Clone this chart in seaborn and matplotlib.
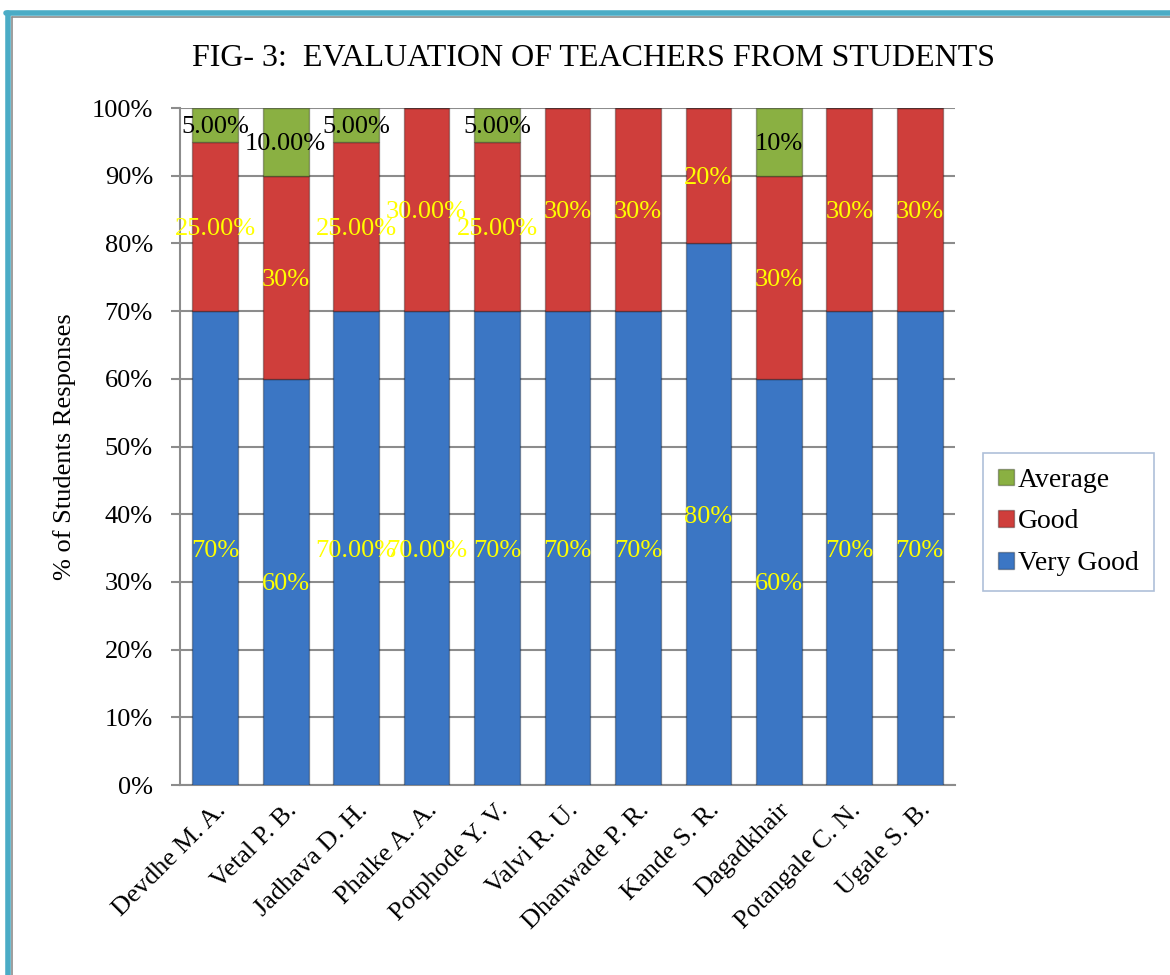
import matplotlib

matplotlib.use("Agg")
import matplotlib.pyplot as plt
import numpy as np
import pandas as pd
import seaborn as sns
from matplotlib.lines import Line2D
from matplotlib.patches import Patch

# data
teachers = [
    "Devdhe M. A.",
    "Vetal P. B.",
    "Jadhava D. H.",
    "Phalke A. A.",
    "Potphode Y. V.",
    "Valvi R. U.",
    "Dhanwade P. R.",
    "Kande S. R.",
    "Dagadkhair",
    "Potangale C. N.",
    "Ugale S. B.",
]
very_good = [70, 60, 70, 70, 70, 70, 70, 80, 60, 70, 70]
good = [25, 30, 25, 30, 25, 30, 30, 20, 30, 30, 30]
average = [5, 10, 5, 0, 5, 0, 0, 0, 10, 0, 0]

very_good_labels = ["70%", "60%", "70.00%", "70.00%", "70%", "70%", "70%", "80%", "60%", "70%", "70%"]
good_labels = ["25.00%", "30%", "25.00%", "30.00%", "25.00%", "30%", "30%", "20%", "30%", "30%", "30%"]
average_labels = ["5.00%", "10.00%", "5.00%", "", "5.00%", "", "", "", "10%", "", ""]

df = pd.DataFrame(
    {
        "teacher": teachers,
        "Very Good": very_good,
        "Good": good,
        "Average": average,
    }
)
df["base_good"] = df["Very Good"]
df["base_avg"] = df["Very Good"] + df["Good"]

colors = {"Very Good": "#3B76C4", "Good": "#CF3E3B", "Average": "#8AB042"}

sns.set_theme(style="white")
plt.rcParams["font.family"] = ["Liberation Serif", "DejaVu Serif"]
plt.rcParams["text.color"] = "black"
plt.rcParams["axes.labelcolor"] = "black"
plt.rcParams["xtick.color"] = "black"
plt.rcParams["ytick.color"] = "black"

fig = plt.figure(figsize=(11.7, 9.75), dpi=100)
ax = fig.add_axes([180 / 1170, 1 - 785 / 975, 775 / 1170, 677 / 975])

bar_w = 0.65
sns.barplot(data=df, x="teacher", y="Very Good", color=colors["Very Good"],
            width=bar_w, saturation=1, ax=ax, zorder=3)
sns.barplot(data=df, x="teacher", y="Good", bottom=df["base_good"], color=colors["Good"],
            width=bar_w, saturation=1, ax=ax, zorder=3)
sns.barplot(data=df, x="teacher", y="Average", bottom=df["base_avg"], color=colors["Average"],
            width=bar_w, saturation=1, ax=ax, zorder=3)

for p in ax.patches:
    p.set_edgecolor("#00000050")
    p.set_linewidth(1.0)

# data labels in the middle of each segment (overlaps kept as in the source)
lab_fs = 19
for i in range(len(teachers)):
    ax.text(i, very_good[i] / 2, very_good_labels[i], ha="center", va="center_baseline",
            color="#FFFF00", fontsize=lab_fs, zorder=5)
    ax.text(i, very_good[i] + good[i] / 2, good_labels[i], ha="center", va="center_baseline",
            color="#FFFF00", fontsize=lab_fs, zorder=5)
    if average_labels[i]:
        ax.text(i, very_good[i] + good[i] + average[i] / 2, average_labels[i],
                ha="center", va="center_baseline", color="black", fontsize=lab_fs, zorder=5)

ax.set_xlim(-0.5, len(teachers) - 0.5)
ax.set_ylim(0, 100)
yt = np.arange(0, 101, 10)
ax.set_yticks(yt)
ax.set_yticklabels([f"{v}%" for v in yt], fontsize=19)
ax.yaxis.grid(True, color="#8C8C8C", linewidth=1.5, zorder=0)
ax.set_axisbelow(True)
ax.tick_params(axis="y", left=True, length=6.5, width=1.5, color="#8C8C8C", pad=13)
ax.tick_params(axis="x", bottom=False, pad=4)
ax.set_xticks(range(len(teachers)))
ax.set_xticklabels(teachers, rotation=45, ha="right", rotation_mode="anchor", fontsize=19)

for side in ["top", "right"]:
    ax.spines[side].set_visible(False)
for side in ["left", "bottom"]:
    ax.spines[side].set_color("#8C8C8C")
    ax.spines[side].set_linewidth(1.5)

ax.set_xlabel("")
ax.set_ylabel("% of Students Responses", fontsize=19, labelpad=11)

fig.text(593 / 1170, 1 - 58 / 975, "FIG- 3:  EVALUATION OF TEACHERS FROM STUDENTS",
         ha="center", va="center", fontsize=23)

handles = [Patch(facecolor=colors[k], edgecolor="#00000050") for k in ["Average", "Good", "Very Good"]]
leg = ax.legend(handles, ["Average", "Good", "Very Good"], loc="center left",
                bbox_to_anchor=(983 / 1170, 1 - 522 / 975), bbox_transform=fig.transFigure,
                fontsize=20, frameon=True, fancybox=False, handlelength=0.55, handleheight=0.55,
                handletextpad=0.15, labelspacing=0.6, borderpad=0.55, borderaxespad=0)
leg.get_frame().set_edgecolor("#9BB0CF")
leg.get_frame().set_linewidth(1.2)

# outer frame
fig.add_artist(Line2D([7.5 / 1170, 7.5 / 1170], [0, 1 - 13 / 975], transform=fig.transFigure,
                      color="#4BACC6", linewidth=4))
fig.add_artist(Line2D([5.5 / 1170, 1], [1 - 13 / 975, 1 - 13 / 975], transform=fig.transFigure,
                      color="#4BACC6", linewidth=4))
fig.add_artist(Line2D([11.5 / 1170, 11.5 / 1170], [0, 1 - 16.5 / 975], transform=fig.transFigure,
                      color="#8C8C8C", linewidth=1.2))
fig.add_artist(Line2D([11.5 / 1170, 1], [1 - 16.5 / 975, 1 - 16.5 / 975], transform=fig.transFigure,
                      color="#8C8C8C", linewidth=1.2))

fig.savefig("out.png", dpi=100)
